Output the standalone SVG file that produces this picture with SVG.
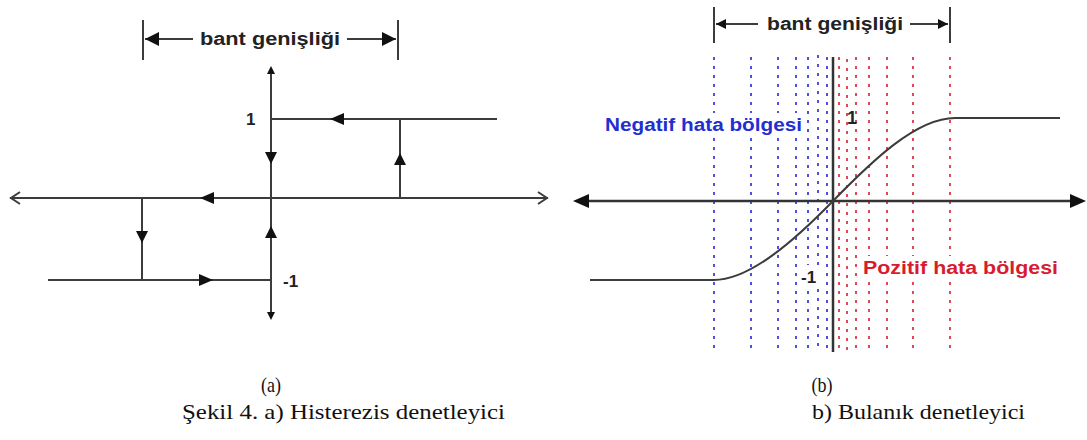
<svg xmlns="http://www.w3.org/2000/svg" width="1087" height="440" viewBox="0 0 1087 440">
  <defs>
    <style>
      .ln { stroke: #3c3c3c; stroke-width: 2; fill: none; }
      .ax { stroke: #333; stroke-width: 2.5; fill: none; }
      .tri { fill: #111; }
      .lbl { font-family: "Liberation Sans", Arial, sans-serif; font-weight: bold; fill: #222; }
      .cap { font-family: "Liberation Serif", "Times New Roman", serif; fill: #111; }
      .neg { stroke: #5050e0; stroke-width: 2; stroke-dasharray: 3 6; fill: none; }
      .pos { stroke: #e04858; stroke-width: 2; stroke-dasharray: 3 6; fill: none; }
      .bg { fill: #fff; }
    </style>
    <marker id="head" viewBox="0 0 10 10" refX="10" refY="5" markerWidth="10" markerHeight="10" markerUnits="userSpaceOnUse" orient="auto">
      <path d="M0,0 L10,5 L0,10 z" fill="#111"/>
    </marker>
    <marker id="headBig" viewBox="0 0 10 10" refX="10" refY="5" markerWidth="14" markerHeight="14" markerUnits="userSpaceOnUse" orient="auto">
      <path d="M0,0 L10,5 L0,10 z" fill="#111"/>
    </marker>
  </defs>

  <!-- (a) hysteresis controller -->
  <g id="hysteresis">
    <g id="bandwidth-a">
      <line class="ln" x1="143" y1="20" x2="143" y2="60"/>
      <line class="ln" x1="398" y1="20" x2="398" y2="60"/>
      <line class="ln" x1="193" y1="39" x2="145" y2="39" marker-end="url(#headBig)"/>
      <line class="ln" x1="347" y1="39" x2="396" y2="39" marker-end="url(#headBig)"/>
      <text class="lbl" x="270" y="45" font-size="18" text-anchor="middle" textLength="140" lengthAdjust="spacingAndGlyphs">bant genişliği</text>
    </g>
    <g id="axes-a">
      <line class="ln" x1="10" y1="198" x2="548" y2="198"/>
      <polyline class="ln" points="20,192 11,198 20,204"/>
      <polyline class="ln" points="538,192 547,198 538,204"/>
      <line class="ln" x1="271" y1="68" x2="271" y2="318"/>
      <polygon class="tri" points="271,66 267,74 275,74"/>
      <polygon class="tri" points="271,320 267,312 275,312"/>
    </g>
    <g id="upper-branch">
      <line class="ln" x1="271" y1="119" x2="497" y2="119"/>
      <line class="ln" x1="400" y1="119" x2="400" y2="198"/>
      <polygon class="tri" points="330,119 344,113 344,125"/>
      <polygon class="tri" points="400,153 394,165 406,165"/>
      <polygon class="tri" points="271,164 265,152 277,152"/>
      <polygon class="tri" points="200,198 214,192 214,204"/>
    </g>
    <g id="lower-branch">
      <line class="ln" x1="48" y1="280" x2="271" y2="280"/>
      <line class="ln" x1="142" y1="198" x2="142" y2="280"/>
      <polygon class="tri" points="142,243 136,231 148,231"/>
      <polygon class="tri" points="213,280 199,274 199,286"/>
      <polygon class="tri" points="271,226 265,238 277,238"/>
    </g>
    <text class="lbl" x="246" y="125" font-size="17">1</text>
    <text class="lbl" x="283" y="287" font-size="17">-1</text>
  </g>

  <!-- (b) fuzzy controller -->
  <g id="fuzzy">
    <g id="negative-grid">
      <line class="neg" x1="714" y1="57" x2="714" y2="352"/>
      <line class="neg" x1="751" y1="57" x2="751" y2="352"/>
      <line class="neg" x1="778" y1="57" x2="778" y2="352"/>
      <line class="neg" x1="796" y1="57" x2="796" y2="352"/>
      <line class="neg" x1="808" y1="57" x2="808" y2="352"/>
      <line class="neg" x1="818" y1="55" x2="818" y2="352"/>
      <line class="neg" x1="827" y1="57" x2="827" y2="352" stroke-width="4.5"/>
    </g>
    <g id="positive-grid">
      <line class="pos" x1="839" y1="57" x2="839" y2="352" stroke-width="4.5"/>
      <line class="pos" x1="847" y1="59" x2="847" y2="352"/>
      <line class="pos" x1="856" y1="57" x2="856" y2="352"/>
      <line class="pos" x1="869" y1="57" x2="869" y2="352"/>
      <line class="pos" x1="887" y1="57" x2="887" y2="352"/>
      <line class="pos" x1="913" y1="57" x2="913" y2="352" stroke="#b03868"/>
      <line class="pos" x1="950" y1="57" x2="950" y2="352"/>
    </g>
    <g id="bandwidth-b">
      <line class="ln" x1="714" y1="7" x2="714" y2="43"/>
      <line class="ln" x1="950" y1="7" x2="950" y2="43"/>
      <line class="ln" x1="758" y1="24" x2="716" y2="24" stroke-width="1.5" marker-end="url(#head)"/>
      <line class="ln" x1="910" y1="24" x2="948" y2="24" stroke-width="1.5" marker-end="url(#head)"/>
      <text class="lbl" x="835" y="30" font-size="18" text-anchor="middle" textLength="136" lengthAdjust="spacingAndGlyphs">bant genişliği</text>
    </g>
    <!-- label backgrounds mask the grid behind the region names -->
    <rect class="bg" x="602" y="113" width="203" height="24"/>
    <rect class="bg" x="860" y="256" width="201" height="24"/>
    <rect class="bg" x="798" y="265" width="22" height="24"/>
    <g id="axes-b">
      <line class="ax" x1="588" y1="201" x2="1072" y2="201"/>
      <polygon class="tri" points="573,201 589,194 589,208"/>
      <polygon class="tri" points="1086,201 1070,194 1070,208"/>
      <line class="ax" x1="833" y1="57" x2="833" y2="352" stroke="#444"/>
    </g>
    <path id="fuzzy-curve" class="ln" stroke-width="1.8" d="M590,280 L714,280 C750,280 795,240 833,201 C871,162 916,118 955,118 L1060,118"/>
    <text class="lbl" x="605" y="131" font-size="18" textLength="197" lengthAdjust="spacingAndGlyphs" style="fill:#1f2fd0">Negatif hata bölgesi</text>
    <text class="lbl" x="863" y="274" font-size="18" textLength="195" lengthAdjust="spacingAndGlyphs" style="fill:#d81c30">Pozitif hata bölgesi</text>
    <text class="lbl" x="847" y="124" font-size="18">1</text>
    <text class="lbl" x="801" y="283" font-size="17">-1</text>
  </g>

  <!-- captions -->
  <g id="captions">
    <text class="cap" x="271" y="392" font-size="21" text-anchor="middle" textLength="20" lengthAdjust="spacingAndGlyphs">(a)</text>
    <text class="cap" x="822" y="392" font-size="21" text-anchor="middle" textLength="21" lengthAdjust="spacingAndGlyphs">(b)</text>
    <text class="cap" x="182" y="419" font-size="21" textLength="323" lengthAdjust="spacingAndGlyphs">Şekil 4.  a) Histerezis denetleyici</text>
    <text class="cap" x="812" y="419" font-size="21" textLength="213" lengthAdjust="spacingAndGlyphs">b) Bulanık denetleyici</text>
  </g>
</svg>
